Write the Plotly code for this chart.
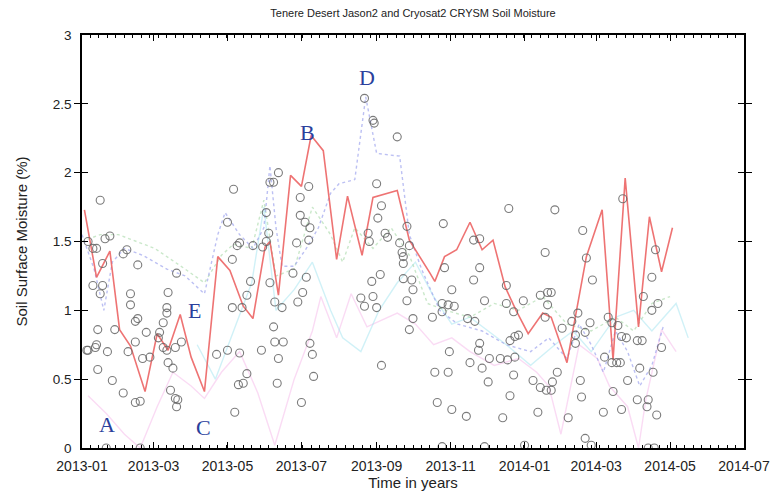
import pandas as pd
import plotly.graph_objects as go

START = pd.Timestamp("2013-01-01")

def to_dates(days):
    return [START + pd.Timedelta(days=d) for d in days]

# Gray circles: observations (day offset from 2013-01-01, soil moisture %)
obs_days = [15, 19, 23, 9, 5, 12, 17, 34, 37, 46, 9, 17, 15, 40, 40, 44, 46, 13, 27, 4, 11, 5, 12, 21,
            38, 44, 53, 50, 56, 13, 25, 34, 44, 48, 78, 71, 70, 70, 67, 64, 63, 67, 70, 77, 82, 71, 75,
            73, 77, 79, 78, 20, 48,
            120, 125, 124, 128, 124, 132, 111, 120, 130, 129, 133, 126, 136, 130, 141, 139, 136, 148,
            155, 158, 162, 152, 154, 152, 149, 155, 159, 165, 158, 159, 166, 162, 161,
            181, 187, 180, 180, 184, 188, 187, 177, 174, 185, 182, 178, 188, 190, 191, 233, 240, 241,
            260, 243, 247, 244, 250, 252, 236, 237, 268, 262, 264, 265, 265, 270, 246, 239, 265, 272,
            273, 240, 243, 233, 268, 273, 270, 247, 230,
            352, 390, 413, 416, 298, 323, 328, 382, 299, 328, 323, 305, 350, 332, 297, 302, 307, 297,
            289, 318, 324, 350, 364, 378, 384, 387, 384, 356, 382, 396, 404, 409, 407, 415, 407, 328,
            327, 303, 353, 357, 360, 336, 345, 351, 357, 320, 330, 291, 302, 356, 335, 372, 378, 383,
            387, 388, 392, 411, 412, 353, 293, 305, 317, 347, 376, 401, 415, 365, 297, 332,
            421, 446, 473, 470, 463, 470, 475, 419, 434, 437, 442, 445, 449, 458, 462, 478, 431, 437,
            441, 444, 460, 471, 450, 438, 458, 467, 466, 474, 430, 445, 467, 472, 420]
obs_vals = [1.80, 1.52, 1.54, 1.45, 1.50, 1.45, 1.34, 1.41, 1.44, 1.33, 1.18, 1.18, 1.12, 1.12, 1.04,
            0.92, 0.94, 0.86, 0.86, 0.71, 0.73, 0.71, 0.75, 0.70, 0.70, 0.77, 0.84, 0.65, 0.66, 0.57,
            0.49, 0.40, 0.33, 0.34, 1.27, 1.13, 1.02, 0.98, 0.91, 0.84, 0.80, 0.73, 0.71, 0.73, 0.77,
            0.62, 0.58, 0.42, 0.36, 0.35, 0.30, 0.0, 0.0,
            1.64, 1.88, 1.37, 1.47, 1.02, 1.02, 0.68, 0.71, 0.69, 0.46, 0.47, 0.26, 0.54, 1.49, 1.47,
            1.21, 1.11, 0.71, 1.93, 1.93, 2.00, 1.71, 1.56, 1.50, 1.46, 1.20, 1.06, 1.02, 0.88, 0.77,
            0.77, 0.65, 0.47,
            0.33, 1.90, 1.82, 1.69, 1.64, 1.60, 1.51, 1.49, 1.27, 1.24, 1.13, 1.06, 0.76, 0.68, 0.52,
            2.54, 2.38, 2.36, 2.26, 1.92, 1.76, 1.67, 1.56, 1.53, 1.56, 1.50, 1.61, 1.49, 1.42, 1.39,
            1.34, 1.47, 1.26, 1.21, 1.23, 1.22, 1.15, 1.10, 1.02, 1.03, 1.07, 0.94, 0.86, 0.60, 1.09,
            1.74, 1.73, 1.58, 1.38, 1.63, 1.51, 1.52, 1.42, 1.31, 1.31, 1.22, 1.15, 1.18, 1.07, 1.05,
            1.04, 1.03, 0.99, 0.95, 0.94, 0.92, 1.05, 1.07, 1.11, 1.13, 1.13, 1.04, 0.99, 0.95, 0.87,
            0.92, 0.98, 0.82, 0.84, 0.76, 0.76, 0.71, 0.70, 0.78, 0.81, 0.82, 0.65, 0.65, 0.64, 0.66,
            0.62, 0.58, 0.55, 0.55, 0.53, 0.48, 0.49, 0.44, 0.42, 0.42, 0.48, 0.55, 0.49, 0.37, 0.38,
            0.33, 0.28, 0.23, 0.22, 0.26, 0.22, 0.07, 0.02, 0.01, 0.01,
            1.22, 1.81, 1.44, 1.24, 1.10, 1.00, 1.05, 0.91, 0.95, 0.91, 0.89, 0.81, 0.80, 0.78, 0.78,
            0.73, 0.66, 0.62, 0.62, 0.62, 0.58, 0.55, 0.49, 0.41, 0.35, 0.35, 0.30, 0.24, 0.26, 0.28,
            0.0, 0.0, 0.02]

# Red solid series
red_days = [2, 12, 23, 31, 40, 52, 62, 71, 81, 90, 101, 112, 122, 133, 141, 151, 155, 162, 172, 181,
            189, 199, 210, 219, 231, 240, 260, 270, 287, 291, 299, 309, 320, 330, 339, 349, 358, 368,
            380, 387, 400, 409, 416, 429, 438, 448, 459, 468, 478, 487]
red_vals = [1.73, 1.24, 1.43, 0.86, 0.74, 0.41, 0.83, 0.71, 0.97, 0.66, 0.41, 1.39, 1.29, 1.03, 0.94,
            1.46, 1.50, 1.11, 1.98, 1.90, 2.27, 2.16, 1.37, 1.83, 1.40, 1.82, 1.87, 1.51, 1.27, 1.21,
            1.39, 1.44, 1.64, 1.44, 1.51, 1.17, 1.00, 0.83, 0.98, 0.95, 0.62, 1.07, 1.39, 1.73, 0.64,
            1.96, 0.88, 1.68, 1.28, 1.60]

# Blue dotted series
blue_days = [0, 10, 18, 25, 35, 50, 70, 85, 101, 112, 118, 130, 141, 150, 155, 160, 165, 175, 185,
             195, 205, 212, 225, 234, 243, 262, 270, 280, 295, 310, 330, 350, 370, 385, 400, 410, 420,
             430, 440, 450, 460, 470, 480]
blue_vals = [1.55, 1.30, 1.00, 1.35, 1.45, 1.40, 1.30, 1.25, 1.12, 1.55, 1.71, 1.55, 1.45, 1.60, 2.05,
             1.60, 1.32, 1.32, 1.45, 1.60, 1.85, 1.92, 1.95, 2.55, 2.14, 2.12, 1.55, 1.30, 1.00, 0.90,
             0.85, 0.75, 0.70, 0.80, 0.65, 0.90, 0.75, 0.55, 0.85, 0.70, 0.45, 0.60, 0.90]

# Green dotted series
green_days = [0, 15, 30, 60, 85, 101, 115, 125, 140, 150, 160, 175, 190, 205, 215, 225, 240, 255, 270,
              285, 300, 320, 340, 360, 380, 400, 420, 440, 455, 470, 485]
green_vals = [1.50, 1.55, 1.55, 1.45, 1.30, 1.20, 1.40, 1.48, 1.45, 1.80, 1.25, 1.30, 1.75, 1.55, 1.35,
              1.60, 1.45, 1.60, 1.40, 1.05, 1.00, 0.95, 1.05, 1.00, 1.10, 0.90, 0.85, 0.95, 0.85, 1.05,
              1.10]

# Cyan series
cyan_days = [95, 110, 125, 140, 150, 160, 175, 190, 205, 215, 230, 245, 260, 275, 290, 305, 320, 335,
             350, 370, 390, 405, 420, 440, 455, 470, 490, 500]
cyan_vals = [0.75, 0.50, 0.85, 1.20, 1.75, 1.00, 1.15, 1.35, 1.00, 0.80, 0.70, 1.00, 1.20, 1.35, 1.10,
             0.90, 0.95, 0.85, 0.75, 0.60, 0.75, 0.85, 0.70, 0.95, 1.00, 0.85, 1.05, 0.80]

# Pink series
pink_days = [5, 20, 35, 48, 62, 75, 90, 101, 115, 130, 145, 159, 175, 190, 197, 210, 222, 235, 260,
             275, 290, 305, 320, 340, 360, 375, 385, 395, 410, 425, 435, 450, 459, 465, 478, 490]
pink_vals = [0.38, 0.25, 0.10, 0.00, 0.30, 0.55, 0.45, 0.36, 0.55, 0.70, 0.40, 0.02, 0.50, 0.85, 1.10,
             0.80, 1.12, 0.88, 0.98, 0.90, 0.75, 0.80, 0.70, 0.60, 0.65, 0.55, 0.45, 0.10, 0.75, 0.65,
             0.45, 0.30, 0.00, 0.35, 0.86, 0.70]

# Labels A-E
label_text = ["A", "B", "C", "D", "E"]
label_days = [21, 186, 100, 235, 93]
label_vals = [0.17, 2.29, 0.15, 2.69, 1.00]

SANS = "Liberation Sans, Arial, sans-serif"

fig = go.Figure()

fig.add_trace(go.Scatter(x=to_dates(pink_days), y=pink_vals, mode="lines",
                         line=dict(color="rgba(242,165,228,0.40)", width=1.4)))
fig.add_trace(go.Scatter(x=to_dates(cyan_days), y=cyan_vals, mode="lines",
                         line=dict(color="rgba(150,225,238,0.45)", width=1.4)))
fig.add_trace(go.Scatter(x=to_dates(green_days), y=green_vals, mode="lines",
                         line=dict(color="rgba(150,210,150,0.50)", width=1.4, dash="dot")))
fig.add_trace(go.Scatter(x=to_dates(blue_days), y=blue_vals, mode="lines",
                         line=dict(color="rgba(160,165,238,0.70)", width=1.4, dash="dot")))
fig.add_trace(go.Scatter(x=to_dates(red_days), y=red_vals, mode="lines",
                         line=dict(color="rgba(235,90,90,0.85)", width=1.6)))
fig.add_trace(go.Scatter(x=to_dates(obs_days), y=obs_vals, mode="markers",
                         marker=dict(symbol="circle-open", size=8, color="rgba(100,100,100,0.85)",
                                     line=dict(width=1.1))))
# invisible helper trace so the top (mirrored) date axis with minor ticks is drawn
fig.add_trace(go.Scatter(x=to_dates(red_days), y=red_vals, mode="lines", xaxis="x2",
                         line=dict(width=0), opacity=0, hoverinfo="skip"))

for t, d, v in zip(label_text, label_days, label_vals):
    fig.add_annotation(x=START + pd.Timedelta(days=d), y=v, text=t, showarrow=False,
                       xref="x", yref="y",
                       font=dict(family="Liberation Serif, DejaVu Serif, serif", size=22,
                                 color="#2a409c"))

tick_common = dict(ticks="inside", tickcolor="black", ticklen=6, showgrid=False, zeroline=False,
                   automargin=False)
minor_x = dict(dtick=7 * 86400000, tick0="2013-01-01", ticks="inside", ticklen=3,
               tickcolor="black", showgrid=False)

fig.update_layout(
    width=770, height=492,
    margin=dict(l=82, r=26, t=35, b=44),
    paper_bgcolor="white", plot_bgcolor="white",
    showlegend=False,
    title=dict(text="Tenere Desert Jason2 and Cryosat2 CRYSM Soil Moisture",
               x=413 / 770, xanchor="center", y=1 - 13 / 492, yanchor="middle",
               font=dict(family=SANS, size=11, color="#222"), automargin=False),
    xaxis=dict(range=["2013-01-01", "2014-07-01"], type="date", tick0="2013-01-01", dtick="M2",
               tickformat="%Y-%m", showline=True, linecolor="black", linewidth=1.5, mirror=True,
               minor=minor_x, ticklabelstandoff=4,
               tickfont=dict(family=SANS, size=14, color="#222"),
               title=dict(text="Time in years", standoff=5,
                          font=dict(family=SANS, size=15, color="#222")),
               **tick_common),
    xaxis2=dict(range=["2013-01-01", "2014-07-01"], type="date", tick0="2013-01-01", dtick="M2",
                matches="x", overlaying="x", side="top", anchor="y", showticklabels=False,
                showline=False, minor=minor_x, **tick_common),
    yaxis=dict(range=[0, 3], dtick=0.5, tick0=0, showline=True, linecolor="black", linewidth=1.5,
               mirror="allticks", ticklabelstandoff=6,
               tickfont=dict(family=SANS, size=13.5, color="#222"),
               title=dict(text="Soil Surface Moisture (%)", standoff=22,
                          font=dict(family=SANS, size=15, color="#222")),
               **tick_common),
)

# remove the default page margin so the 770x492 figure fills the window exactly
fig.write_html("out.html", config={"displayModeBar": False},
               post_script="document.body.style.margin='0';document.body.style.overflow='hidden';")
